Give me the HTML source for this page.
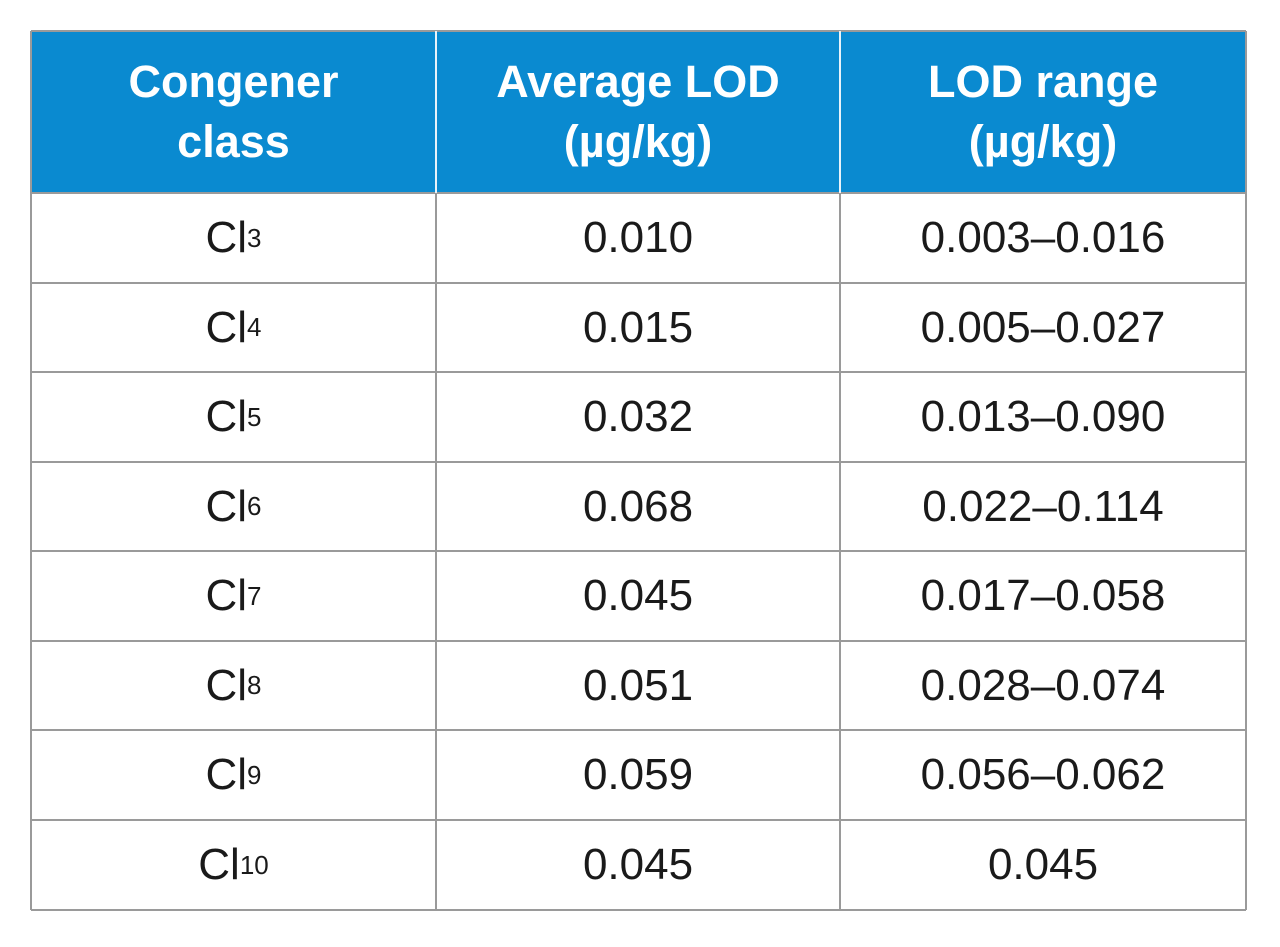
<!DOCTYPE html>
<html><head><meta charset="utf-8"><style>
body{margin:0;width:1280px;height:947px;background:#fff;font-family:"Liberation Sans",sans-serif;position:relative;overflow:hidden}
.c{position:absolute;box-sizing:border-box;display:flex;align-items:center;justify-content:center;text-align:center}
.h{background:#0a8ad0;color:#fff;font-weight:bold;font-size:45px;line-height:60px}
.b{color:#1a1a1a;font-size:44px}
sub{font-size:26px;vertical-align:-18px}
.vl{position:absolute;background:#9a9a9a}
</style></head><body>
<div id="t"></div>
<script>
const classes=["3","4","5","6","7","8","9","10"];
const avg=["0.010","0.015","0.032","0.068","0.045","0.051","0.059","0.045"];
const ranges=["0.003–0.016","0.005–0.027","0.013–0.090","0.022–0.114","0.017–0.058","0.028–0.074","0.056–0.062","0.045"];
const cols=[31,436,840,1246], rows=[31,193,283,372,462,551,641,730,820,910];
const t=document.getElementById('t');
function cell(x0,x1,y0,y1,cls,html,name){const d=document.createElement('div');d.className='c '+cls;d.style.left=x0+'px';d.style.top=y0+'px';d.style.width=(x1-x0)+'px';d.style.height=(y1-y0)+'px';d.innerHTML=html;


t.appendChild(d);}
const heads=["Congener<br>class","Average LOD<br>(µg/kg)","LOD range<br>(µg/kg)"];
const hn=["header-congener-class","header-average-lod","header-lod-range"];
for(let i=0;i<3;i++)cell(cols[i],cols[i+1],rows[0],rows[1],'h',heads[i],hn[i]);
for(let r=0;r<classes.length;r++){
 cell(cols[0],cols[1],rows[r+1],rows[r+2],'b','Cl<sub>'+classes[r]+'</sub>','congener-cell');
 cell(cols[1],cols[2],rows[r+1],rows[r+2],'b',avg[r],'average-lod-cell');
 cell(cols[2],cols[3],rows[r+1],rows[r+2],'b',ranges[r],'lod-range-cell');
}
function line(x,y,w,h,c,name){const d=document.createElement('div');d.className='vl';d.style.left=x+'px';d.style.top=y+'px';d.style.width=w+'px';d.style.height=h+'px';if(c)d.style.background=c;


t.appendChild(d);}
for(let i=1;i<rows.length;i++)line(cols[0],rows[i]-1,cols[3]-cols[0],2,null,'row-border');
line(cols[0],rows[0]-1,cols[3]-cols[0],2,null,'row-border');
line(cols[0]-1,rows[0],2,rows[rows.length-1]-rows[0],null,'col-border');
line(cols[3]-1,rows[0],2,rows[rows.length-1]-rows[0],null,'col-border');
for(let i=1;i<3;i++){line(cols[i]-1,rows[0],2,rows[1]-rows[0],'#e8f3fa','header-col-border');line(cols[i]-1,rows[1],2,rows[rows.length-1]-rows[1],null,'col-border');}
</script>
</body></html>
